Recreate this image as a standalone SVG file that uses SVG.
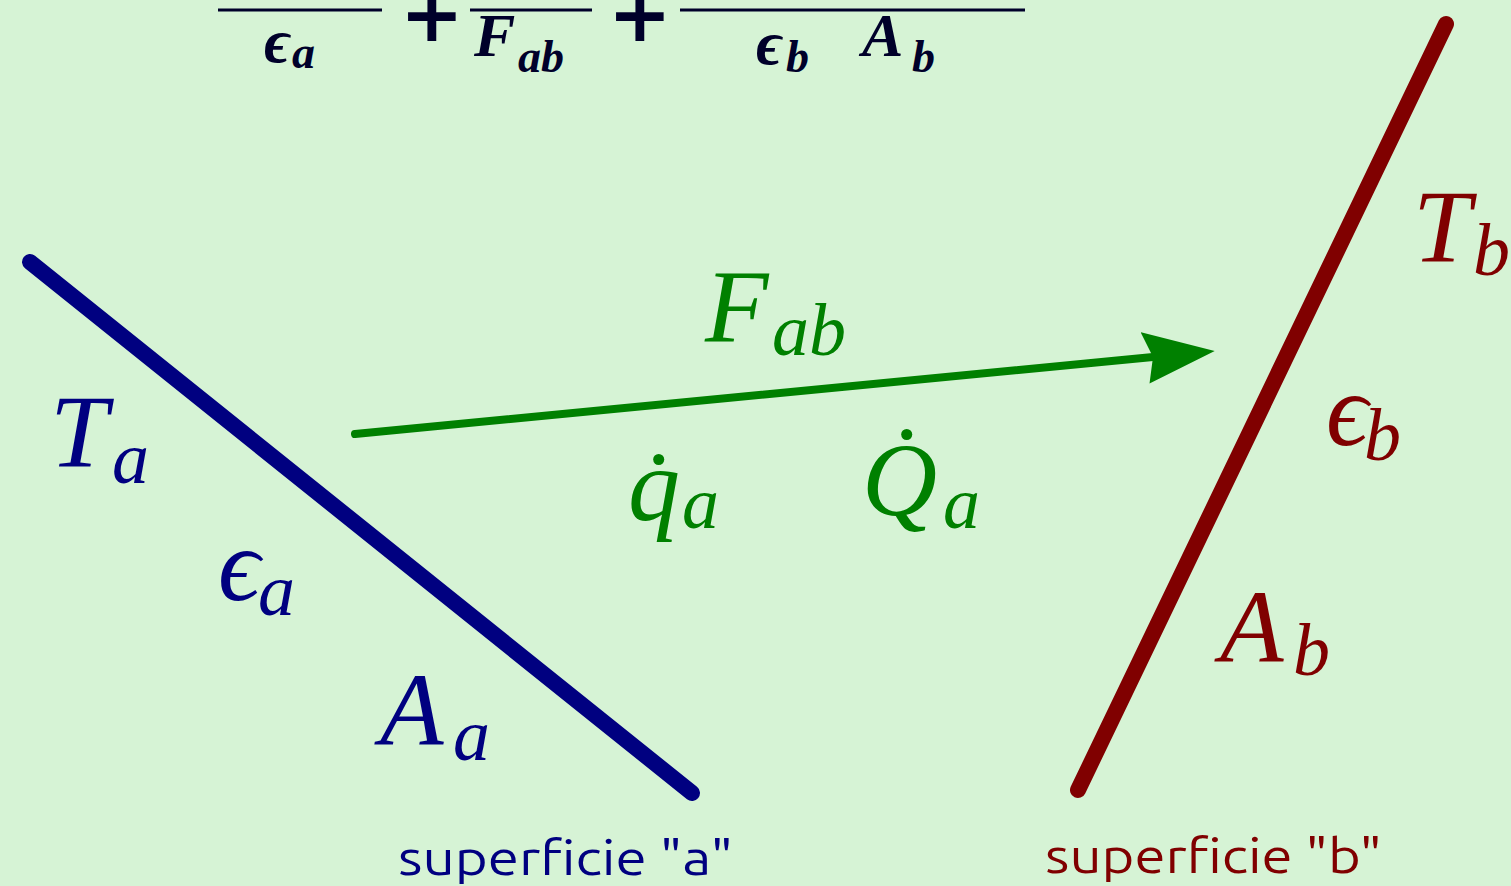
<svg xmlns="http://www.w3.org/2000/svg" width="1511" height="886" viewBox="0 0 1511 886">
<defs>
<style>
.m{font-family:"Liberation Serif","DejaVu Serif",serif;font-style:italic;font-size:104px}
.s{font-size:74px}
.f{font-family:"Liberation Serif","DejaVu Serif",serif;font-style:italic;font-weight:bold;font-size:62px;fill:#00002a}
.fs{font-size:46px}
.plus{font-family:"DejaVu Sans","Liberation Sans",sans-serif;font-weight:bold;font-size:76px;fill:#00002a}
.lbl{font-family:"Ubuntu","DejaVu Sans","Liberation Sans",sans-serif;font-size:48px}
.blue{fill:#000080}
.red{fill:#800000}
.green{fill:#008000}
</style>
<marker id="ah" markerUnits="userSpaceOnUse" markerWidth="80" markerHeight="60" refX="10" refY="26" orient="auto">
<path d="M0,0 L72,26 L4,52 L10,26 Z" fill="#008000"/>
</marker>
</defs>
<rect width="1511" height="886" fill="#d6f3d5"/>

<g id="formula">
<line x1="218" y1="10" x2="382" y2="10" stroke="#00002a" stroke-width="3"/>
<line x1="470" y1="10" x2="592" y2="10" stroke="#00002a" stroke-width="3"/>
<line x1="680" y1="10" x2="1025" y2="10" stroke="#00002a" stroke-width="3"/>
<text class="plus" x="400" y="41">+</text>
<text class="plus" x="608" y="41">+</text>
<text class="f" x="264" y="62">ϵ<tspan class="fs" x="292" y="68">a</tspan></text>
<text class="f" x="474" y="56">F<tspan class="fs" x="518" y="72">ab</tspan></text>
<text class="f" x="756" y="64">ϵ<tspan class="fs" x="786" y="72">b</tspan><tspan x="862" y="56">A</tspan><tspan class="fs" x="912" y="72">b</tspan></text>
</g>

<g id="surface-a">
<line x1="30" y1="262" x2="692" y2="793" stroke="#000080" stroke-width="16" stroke-linecap="round"/>
<text class="m blue" x="50" y="467">T<tspan class="s" x="112" y="483">a</tspan></text>
<text class="m blue" x="218" y="600">ϵ<tspan class="s" x="258" y="615">a</tspan></text>
<text class="m blue" x="380" y="745">A<tspan class="s" x="453" y="760">a</tspan></text>
<text class="lbl blue" x="398" y="875" textLength="335" lengthAdjust="spacingAndGlyphs">superficie "a"</text>
</g>

<g id="surface-b">
<line x1="1446" y1="24" x2="1078" y2="790" stroke="#800000" stroke-width="16" stroke-linecap="round"/>
<text class="m red" x="1413" y="262">T<tspan class="s" x="1473" y="275">b</tspan></text>
<text class="m red" x="1326" y="445">ϵ<tspan class="s" x="1364" y="460">b</tspan></text>
<text class="m red" x="1220" y="662">A<tspan class="s" x="1293" y="675">b</tspan></text>
<text class="lbl red" x="1045" y="873" textLength="337" lengthAdjust="spacingAndGlyphs">superficie "b"</text>
</g>

<g id="connectors">
<line x1="355" y1="434" x2="1153" y2="357" stroke="#008000" stroke-width="8" stroke-linecap="round" marker-end="url(#ah)"/>
</g>

<g id="flow-labels">
<text class="m green" x="628" y="520">q̇<tspan class="s" x="682" y="528">a</tspan></text>
<text class="m green" x="705" y="342">F<tspan class="s" x="772" y="355">ab</tspan></text>
<text class="m green" x="862" y="515">Q̇<tspan class="s" x="943" y="528">a</tspan></text>
</g>
</svg>
